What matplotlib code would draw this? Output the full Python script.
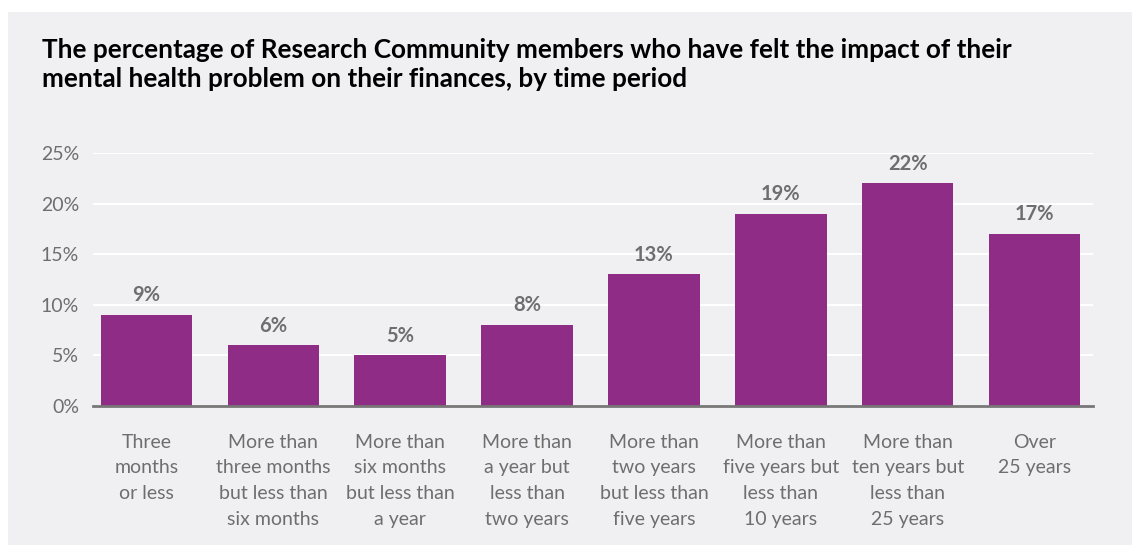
import matplotlib.pyplot as plt
from matplotlib.patches import Rectangle

# data
categories = ['Three\nmonths\nor less',
              'More than\nthree months\nbut less than\nsix months',
              'More than\nsix months\nbut less than\na year',
              'More than\na year but\nless than\ntwo years',
              'More than\ntwo years\nbut less than\nfive years',
              'More than\nfive years but\nless than\n10 years',
              'More than\nten years but\nless than\n25 years',
              'Over\n25 years']
values = [9, 6, 5, 8, 13, 19, 22, 17]
yticks = [0, 5, 10, 15, 20, 25]

plt.rcParams['font.family'] = ['Lato', 'DejaVu Sans']

BG = '#f0f0f2'
BAR = '#8e2c86'
GREY = '#6e6e6e'

fig = plt.figure(figsize=(11.32, 5.46), dpi=100)
fig.patch.set_facecolor('white')
fig.patches.append(Rectangle((8/1132, 1/546), 1, 533/546, transform=fig.transFigure,
                             facecolor=BG, edgecolor='none', zorder=-10))

ax = fig.add_axes([93/1132, 140/546, 1000/1132, 253/546])
ax.set_facecolor(BG)

x = range(len(values))
bars = ax.bar(x, values, width=0.72, color=BAR, zorder=3)
for b, v in zip(bars, values):
    ax.text(b.get_x() + b.get_width()/2, v + 0.95, f'{v}%', ha='center', va='bottom',
            fontsize=14.5, fontweight='bold', color=GREY)

ax.set_xlim(-0.42, 7.46)
ax.set_ylim(0, 25)
ax.set_yticks(yticks)
ax.set_yticklabels([f'{t}%' for t in yticks])
ax.set_xticks(list(x))
ax.set_xticklabels(categories, linespacing=1.62)
ax.tick_params(axis='both', length=0, labelsize=14, labelcolor=GREY)
ax.tick_params(axis='y', pad=10)
ax.tick_params(axis='x', pad=20)
for t in ax.get_xticklabels():
    t.set_verticalalignment('top')

ax.yaxis.grid(True, color='white', linewidth=1.5, zorder=0)
ax.set_axisbelow(True)
for s in ['top', 'right', 'left']:
    ax.spines[s].set_visible(False)
ax.spines['bottom'].set_color('#777777')
ax.spines['bottom'].set_linewidth(2)
ax.spines['bottom'].set_zorder(4)

fig.text(42/1132, 1 - 38/546,
         'The percentage of Research Community members who have felt the impact of their\n'
         'mental health problem on their finances, by time period',
         ha='left', va='top', fontsize=18.8, fontweight='bold', color='black', linespacing=1.25)

fig.savefig('out.png', dpi=100, facecolor=fig.get_facecolor())
